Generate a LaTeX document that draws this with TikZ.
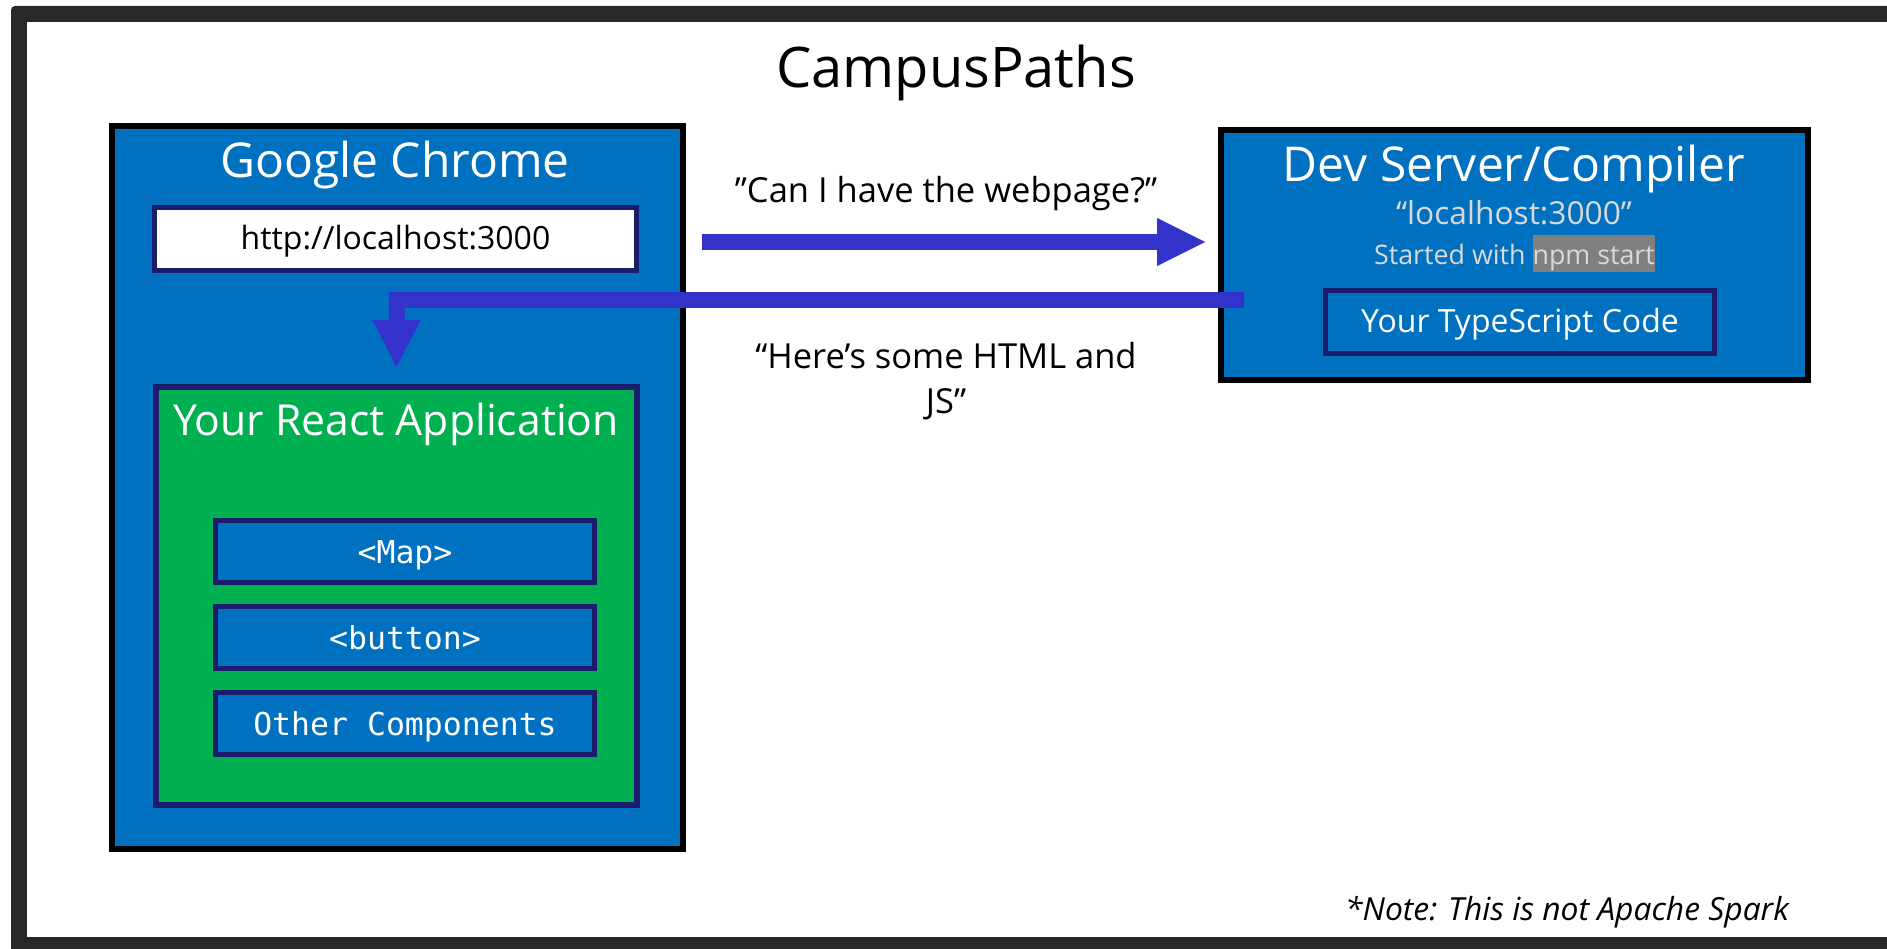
\documentclass[tikz,border=0pt]{standalone}
\usepackage{fontspec}
\setmainfont{Open Sans}
\setmonofont{DejaVu Sans Mono}
\usetikzlibrary{arrows.meta}
\definecolor{framegray}{HTML}{282828}
\definecolor{chromeblue}{HTML}{0070C0}
\definecolor{reactgreen}{HTML}{00B050}
\definecolor{navy}{HTML}{1C1C6C}
\definecolor{flowblue}{HTML}{3333CC}
\definecolor{lighttext}{HTML}{D9D9D9}
\definecolor{hlgray}{HTML}{808080}
\newcommand{\hlbox}[1]{{\setlength{\fboxsep}{0pt}\colorbox{hlgray}{\rule[-7pt]{0pt}{37pt}#1}}}
\begin{document}
\begin{tikzpicture}[x=1pt,y=-1pt,
  bigbox/.style={draw=black, line width=6pt, inner sep=0pt, outer sep=0pt},
  inbox/.style={draw=navy, line width=5pt, inner sep=0pt, outer sep=0pt},
  compbox/.style={inbox, fill=chromeblue, text=white, minimum width=378.5pt, minimum height=62pt,
    font=\ttfamily\fontsize{31.5}{36}\selectfont, text height=24pt, text depth=1pt},
  headtxt/.style={anchor=base, text=white, inner sep=0pt, font=\fontsize{48}{56}\selectfont},
  lbl/.style={inner sep=0pt, font=\fontsize{34.5}{45}\selectfont},
  flow/.style={draw=flowblue, line width=16pt, line join=miter, line cap=butt}
]
\useasboundingbox (0,0) rectangle (1887,949);
% outer frame
\fill[framegray, rounded corners=4pt] (11,6) rectangle (1920,980);
\fill[white] (27,22) rectangle (1920,937);

% title
\node[anchor=base, inner sep=0pt, font=\fontsize{56}{64}\selectfont] (title) at (956,88) {CampusPaths};

% Google Chrome box
\node[bigbox, fill=chromeblue, minimum width=571pt, minimum height=723pt] (chrome) at (397.5,487.5) {};
\node[headtxt] (chrometitle) at (395,178) {Google Chrome};
\node[inbox, fill=white, minimum width=482pt, minimum height=63pt,
  font=\fontsize{32}{38}\selectfont, text height=24pt, text depth=2pt] (url) at (395.5,239) {http://localhost:3000};

% React application
\node[inbox, line width=6pt, fill=reactgreen, minimum width=481pt, minimum height=418pt] (react) at (396.5,596) {};
\node[headtxt, font=\fontsize{42.7}{50}\selectfont] (reacttitle) at (396,435) {Your React Application};
\node[compbox] (map) at (405,551.5) {<Map>};
\node[compbox] (button) at (405,637.5) {<button>};
\node[compbox] (other) at (405,723.5) {Other Components};

% Dev server box
\node[bigbox, fill=chromeblue, minimum width=587pt, minimum height=250pt] (dev) at (1514.5,255) {};
\node[headtxt] (devtitle) at (1514,182) {Dev Server/Compiler};
\node[anchor=base, inner sep=0pt, text=lighttext, font=\fontsize{31.7}{36}\selectfont] (host) at (1514,225) {“localhost:3000”};
\node[anchor=base, inner sep=0pt, text=lighttext, font=\fontsize{26.8}{30}\selectfont] (started) at (1514.5,265) {Started with \hlbox{npm start}};
\node[inbox, fill=chromeblue, text=white, minimum width=389.5pt, minimum height=62.5pt,
  font=\fontsize{32}{38}\selectfont, text height=24pt, text depth=2pt] (ts) at (1520,322) {Your TypeScript Code};

% arrows
\draw[flow, -{Triangle[length=48pt,width=48pt,line width=0.1pt]}, shorten <=19pt, shorten >=16pt]
  (chrome.east |- 0,242) -- (dev.west |- 0,242);
\draw[flow, -{Triangle[length=47pt,width=48pt,line width=0.1pt]}, shorten <=-23pt, shorten >=20pt]
  (dev.west |- 0,300) -- (react.north |- 0,300) -- (react.north);

% labels
\node[lbl, anchor=base] (req) at (946,203) {”Can I have the webpage?”};
\node[lbl, anchor=north, align=center] (resp) at (946,342) {“Here’s some HTML and\\JS”};

% note
\node[anchor=base, inner sep=0pt, font=\itshape\fontsize{31.8}{36}\selectfont] (note) at (1567,920) {*Note: This is not Apache Spark};
\end{tikzpicture}
\end{document}
